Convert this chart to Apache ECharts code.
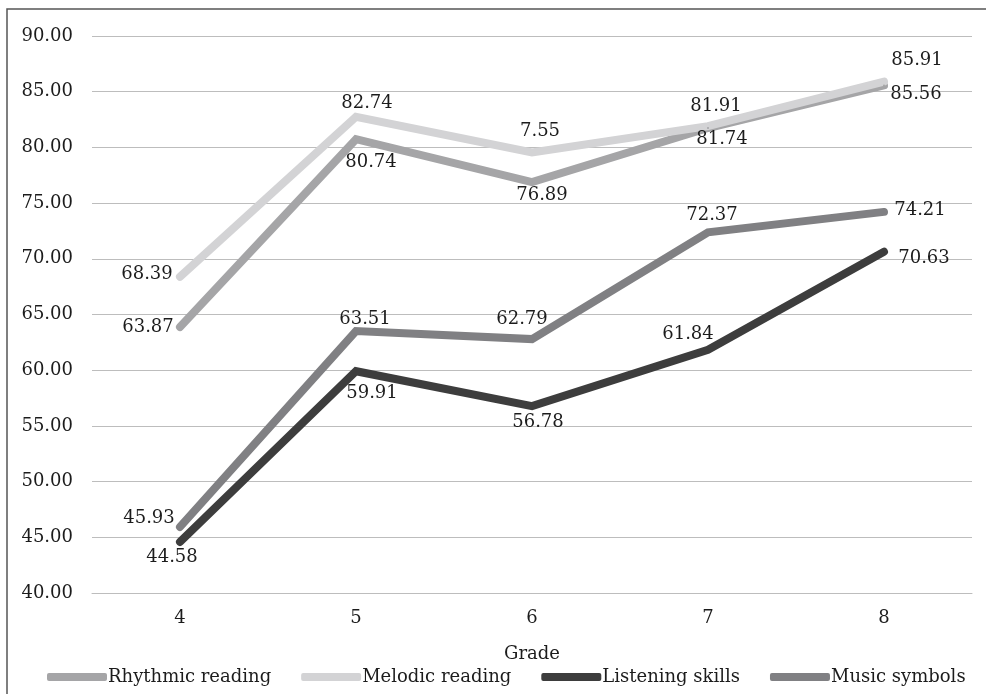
<!DOCTYPE html>
<html>
<head>
<meta charset="utf-8">
<script src="https://cdn.jsdelivr.net/npm/echarts@6/dist/echarts.min.js"></script>
<style>html,body{margin:0;padding:0;background:#fff}#c{width:986px;height:694px}</style>
</head>
<body>
<div id="c"></div>
<script>
const categories = ['4', '5', '6', '7', '8'];
const rhythmic = [63.87, 80.74, 76.89, 81.74, 85.56];
const melodic = [68.39, 82.74, 79.55, 81.91, 85.91];
const listening = [44.58, 59.91, 56.78, 61.84, 70.63];
const symbols = [45.93, 63.51, 62.79, 72.37, 74.21];
const melodicLabels = ['68.39', '82.74', '7.55', '81.91', '85.91'];
const yTicks = [40, 45, 50, 55, 60, 65, 70, 75, 80, 85, 90];

const FONT = 'DejaVu Serif';
const FS = 18;
const TXT = '#1c1c1c';
const SYM = 2;

function items(vals, offs, texts) {
  return vals.map((v, i) => {
    const o = offs[i];
    return {
      value: v,
      label: {
        show: true,
        position: [SYM / 2 + o[0], SYM / 2 + o[1]],
        align: 'center',
        verticalAlign: 'middle',
        formatter: texts ? texts[i] : v.toFixed(2)
      }
    };
  });
}

const baseLabel = { fontFamily: FONT, fontSize: FS, color: TXT };

const series = [
  { name: 'Rhythmic reading', color: '#a5a5a7', vals: rhythmic,
    offs: [[-32, 0], [15, 23], [10, 13], [14, 11], [32, 9]] },
  { name: 'Melodic reading', color: '#d3d3d5', vals: melodic, texts: melodicLabels,
    offs: [[-33, -2], [11, -14], [8, -21], [8, -20], [33, -21]] },
  { name: 'Listening skills', color: '#3d3d3d', vals: listening,
    offs: [[-8, 15], [16, 22], [6, 16], [-20, -15], [40, 7]] },
  { name: 'Music symbols', color: '#808083', vals: symbols,
    offs: [[-31, -9], [9, -12], [-10, -20], [4, -17], [36, -2]] }
].map(s => ({
  name: s.name,
  type: 'line',
  data: items(s.vals, s.offs, s.texts),
  symbol: 'circle',
  symbolSize: SYM,
  showSymbol: true,
  lineStyle: { color: s.color, width: 8, cap: 'round', join: 'miter' },
  itemStyle: { color: s.color },
  label: Object.assign({ show: true }, baseLabel),
  emphasis: { disabled: true },
  animation: false
}));

const chart = echarts.init(document.getElementById('c'), null, { renderer: 'canvas' });
chart.setOption({
  animation: false,
  backgroundColor: '#fff',
  graphic: [{
    type: 'rect', shape: { x: 7, y: 9, width: 1000, height: 720 },
    style: { fill: 'none', stroke: '#555', lineWidth: 1.5 }, silent: true, z: 100
  }],
  grid: { left: 92, right: 14, top: 36, bottom: 101, containLabel: false },
  legend: {
    bottom: 3,
    left: 42,
    itemWidth: 60,
    itemHeight: 8,
    itemGap: 30,
    icon: 'roundRect',
    textStyle: { fontFamily: FONT, fontSize: FS, color: TXT, padding: [0, 0, 0, -4] },
    data: series.map(s => ({ name: s.name, itemStyle: { color: s.lineStyle.color } }))
  },
  xAxis: {
    type: 'category',
    data: categories,
    boundaryGap: true,
    name: 'Grade',
    nameLocation: 'middle',
    nameGap: 52,
    nameTextStyle: { fontFamily: FONT, fontSize: FS, color: TXT },
    axisLine: { lineStyle: { color: '#bdbdbd', width: 1 } },
    axisTick: { show: false },
    axisLabel: { fontFamily: FONT, fontSize: FS, color: TXT, margin: 16 }
  },
  yAxis: {
    type: 'value',
    min: yTicks[0],
    max: yTicks[yTicks.length - 1],
    interval: 5,
    axisLine: { show: false },
    axisTick: { show: false },
    splitLine: { lineStyle: { color: '#bdbdbd', width: 1 } },
    axisLabel: { fontFamily: FONT, fontSize: FS, color: TXT, margin: 19, formatter: v => v.toFixed(2) }
  },
  series: series
});
</script>
</body>
</html>
